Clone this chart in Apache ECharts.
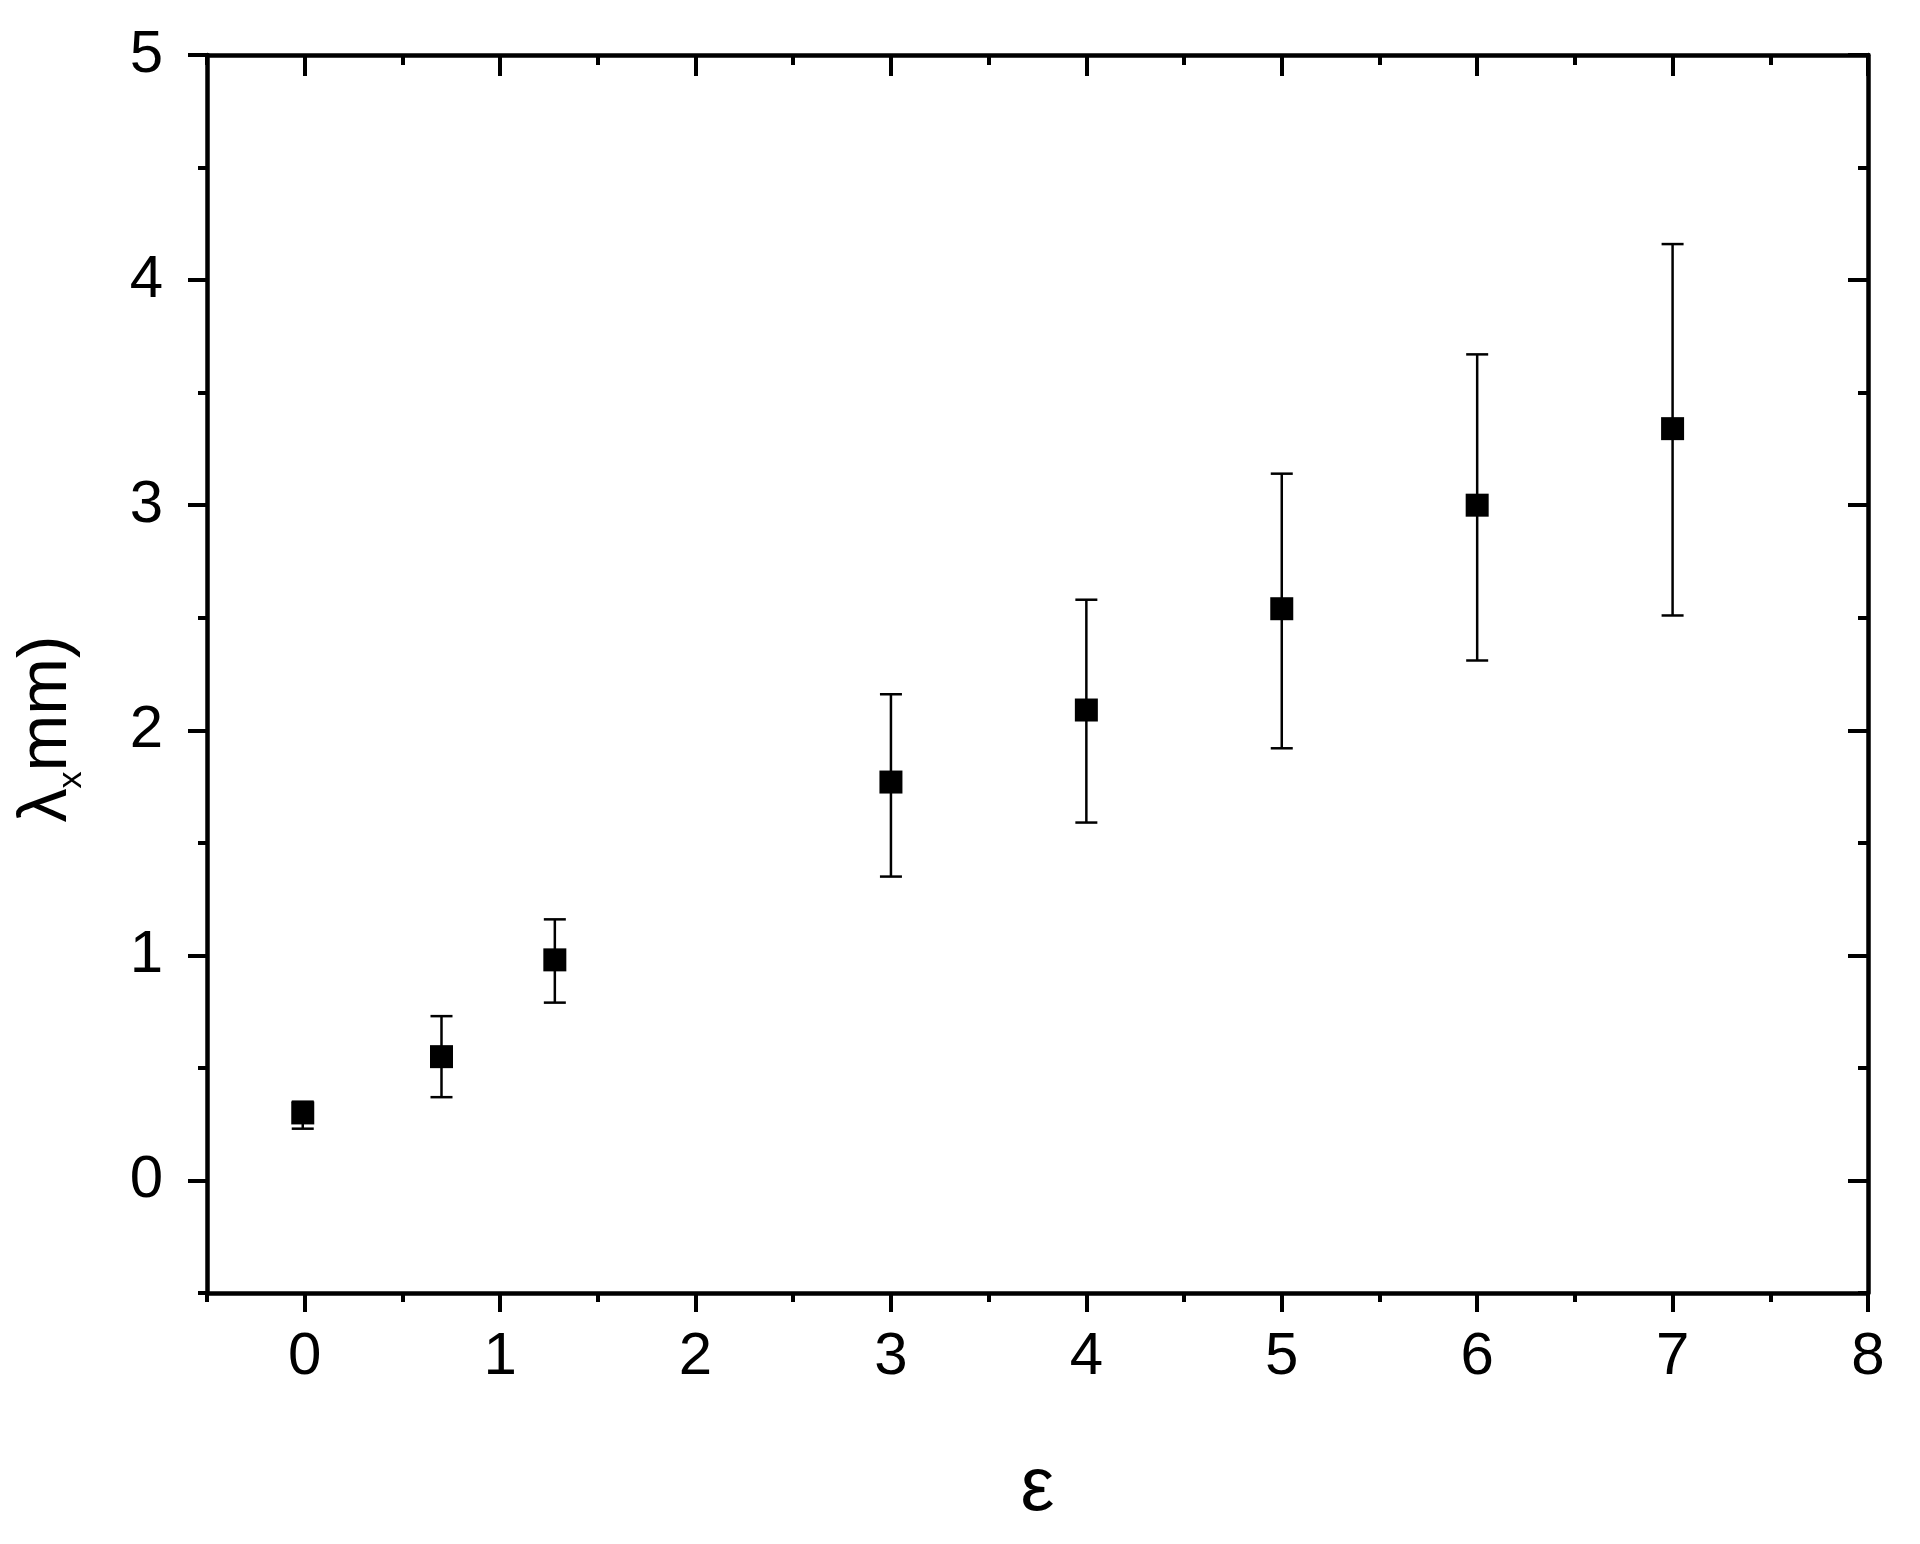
<!DOCTYPE html>
<html>
<head>
<meta charset="utf-8">
<script src="https://cdn.jsdelivr.net/npm/echarts@6/dist/echarts.min.js"></script>
<style>
html,body{margin:0;padding:0;background:#fff;}
#chart{width:1920px;height:1544px;}
</style>
</head>
<body>
<div id="chart"></div>
<script>
var xValues = [-0.01, 0.7, 1.28, 3, 4, 5, 6, 7];
var yValues = [0.30, 0.55, 0.98, 1.77, 2.09, 2.54, 3.00, 3.34];
var yUpper = [0.35, 0.73, 1.16, 2.16, 2.58, 3.14, 3.67, 4.16];
var yLower = [0.23, 0.37, 0.79, 1.35, 1.59, 1.92, 2.31, 2.51];
var xMajor = [0, 1, 2, 3, 4, 5, 6, 7, 8];
var xMinor = [-0.5, 0.5, 1.5, 2.5, 3.5, 4.5, 5.5, 6.5, 7.5];
var yMajor = [0, 1, 2, 3, 4, 5];
var yMinor = [-0.5, 0.5, 1.5, 2.5, 3.5, 4.5];

var FONT = 'Liberation Sans, Arial, sans-serif';
var chart = echarts.init(document.getElementById('chart'));

var points = [];
var bars = [];
for (var i = 0; i < xValues.length; i++) {
	points.push([xValues[i], yValues[i]]);
	bars.push([xValues[i], yLower[i], yUpper[i]]);
}

// builds one x or y axis; major/minor ticks come from customValues
function makeAxis(pos, ticks, len, inside, withLine, withLabel) {
	var isX = (pos == 'bottom' || pos == 'top');
	var ax = {
		type: 'value',
		position: pos,
		min: isX ? -0.5 : -0.5,
		max: isX ? 8 : 5,
		splitLine: {show: false},
		axisLine: {show: withLine, onZero: false, lineStyle: {color: '#000', width: 4.5}},
		axisTick: {show: true, inside: inside, length: len, customValues: ticks,
			lineStyle: {color: '#000', width: 4}},
		axisLabel: {show: false}
	};
	if (withLabel) {
		ax.axisLabel = {
			show: true,
			customValues: ticks,
			color: '#000',
			fontFamily: FONT,
			fontSize: 60,
			margin: isX ? 34 : 44
		};
	}
	return ax;
}

var xAxes = [
	makeAxis('bottom', xMajor, 19, false, true, true),
	makeAxis('bottom', xMinor, 9, false, false, false),
	makeAxis('top', xMajor, 21, true, true, false),
	makeAxis('top', xMinor, 10, true, false, false)
];
xAxes[0].name = 'ε';
xAxes[0].nameLocation = 'middle';
xAxes[0].nameGap = 158;
xAxes[0].nameTextStyle = {color: '#000', fontFamily: FONT, fontSize: 76};

var yAxes = [
	makeAxis('left', yMajor, 19, false, true, true),
	makeAxis('left', yMinor, 9, false, false, false),
	makeAxis('right', yMajor, 20, true, true, false),
	makeAxis('right', yMinor, 10, true, false, false)
];
yAxes[0].name = '{l|λ}{s|x}{l|mm)}';
yAxes[0].nameLocation = 'middle';
yAxes[0].nameRotate = 90;
yAxes[0].nameGap = 118;
yAxes[0].nameTextStyle = {
	color: '#000',
	fontFamily: FONT,
	padding: [0, 110, 0, 0],
	rich: {
		l: {fontSize: 68, fontFamily: FONT, color: '#000', lineHeight: 84},
		s: {fontSize: 34, fontFamily: FONT, color: '#000', lineHeight: 38, verticalAlign: 'bottom'}
	}
};

var option = {
	backgroundColor: '#fff',
	animation: false,
	grid: {left: 207, right: 52, top: 55, bottom: 251, containLabel: false},
	xAxis: xAxes,
	yAxis: yAxes,
	series: [
		{
			type: 'custom',
			xAxisIndex: 0,
			yAxisIndex: 0,
			data: bars,
			z: 2,
			renderItem: function (params, api) {
				var lo = api.coord([api.value(0), api.value(1)]);
				var hi = api.coord([api.value(0), api.value(2)]);
				var cap = 11;
				var st = {stroke: '#000', lineWidth: 2.5};
				return {
					type: 'group',
					children: [
						{type: 'line', shape: {x1: hi[0], y1: hi[1], x2: lo[0], y2: lo[1]}, style: st},
						{type: 'line', shape: {x1: hi[0] - cap, y1: hi[1], x2: hi[0] + cap, y2: hi[1]}, style: st},
						{type: 'line', shape: {x1: lo[0] - cap, y1: lo[1], x2: lo[0] + cap, y2: lo[1]}, style: st}
					]
				};
			}
		},
		{
			type: 'scatter',
			xAxisIndex: 0,
			yAxisIndex: 0,
			data: points,
			symbol: 'rect',
			symbolSize: 23,
			z: 3,
			itemStyle: {color: '#000', opacity: 1}
		}
	]
};
chart.setOption(option);
</script>
</body>
</html>
